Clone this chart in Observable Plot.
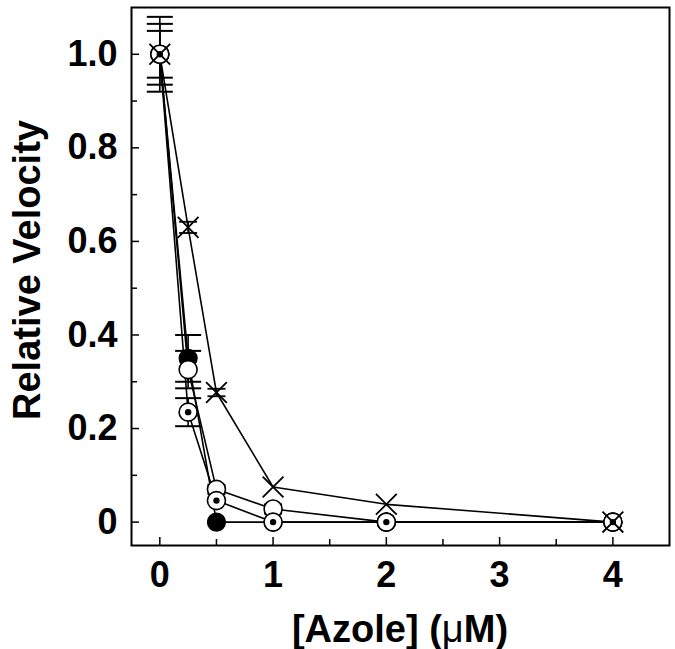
<!DOCTYPE html>
<html>
<head>
<meta charset="utf-8">
<script src="https://cdn.jsdelivr.net/npm/d3@7"></script>
<script src="https://cdn.jsdelivr.net/npm/@observablehq/plot@0.6"></script>
<style>
  html, body { margin: 0; padding: 0; background: #fff; }
  svg { font-family: "Liberation Sans", Arial, sans-serif; }
</style>
</head>
<body>
<div id="chart"></div>
<script>
// Azole concentration (µM)
const azole = [0, 0.25, 0.5, 1, 2, 4];
// Relative velocity series
const filledVals = [1.0, 0.35, 0, 0, 0, 0];
const openVals   = [1.0, 0.326, 0.07, 0.028, 0, 0];
const dottedVals = [1.0, 0.235, 0.046, 0, 0, 0];
const crossVals  = [1.0, 0.63, 0.277, 0.075, 0.038, 0];
// Error (±)
const filledErr = [0.065, 0.05, 0, 0, 0, 0];
const openErr   = [0.08, 0.04, 0.01, 0.01, 0, 0];
const dottedErr = [0.05, 0.03, 0, 0, 0, 0];
const crossErr  = [0, 0.012, 0.008, 0, 0, 0];
// Ticks
const yMajor = [0, 0.2, 0.4, 0.6, 0.8, 1.0];
const yMinor = [0.1, 0.3, 0.5, 0.7, 0.9];
const yLabels = ["0", "0.2", "0.4", "0.6", "0.8", "1.0"];
const xMajor = [0, 1, 2, 3, 4];
const xMinor = [0.5, 1.5, 2.5, 3.5];
const xLabels = ["0", "1", "2", "3", "4"];

const seriesDefs = [
  {name: "filled", vals: filledVals, err: filledErr},
  {name: "open", vals: openVals, err: openErr},
  {name: "dotted", vals: dottedVals, err: dottedErr},
  {name: "cross", vals: crossVals, err: crossErr}
];
const rows = seriesDefs.flatMap(s => azole.map((x, i) => ({series: s.name, x, y: s.vals[i], e: s.err[i]})));
const errRows = rows.filter(d => d.e > 0);
const caps = errRows.flatMap(d => [{...d, yc: d.y + d.e}, {...d, yc: d.y - d.e}]);
const bigCaps = caps.filter(d => d.e >= 0.02);
const smallCaps = caps.filter(d => d.e < 0.02);

const capSymbol = {
  draw(context, size) {
    const r = Math.sqrt(size / Math.PI);
    context.moveTo(-r, 0);
    context.lineTo(r, 0);
  }
};

const W = 675, H = 649;
const plot = Plot.plot({
  width: W,
  height: H,
  marginLeft: 131,
  marginRight: 6,
  marginTop: 7,
  marginBottom: 104,
  style: {fontFamily: "'Liberation Sans', Arial, sans-serif", background: "#fff"},
  x: {domain: [-0.25, 4.5], axis: null},
  y: {domain: [-0.05, 1.1], axis: null},
  marks: [
    Plot.line(rows, {x: "x", y: "y", z: "series", stroke: "black", strokeWidth: 1.6}),
    Plot.ruleX(errRows, {x: "x", y1: d => d.y - d.e, y2: d => d.y + d.e, stroke: "black", strokeWidth: 1.6}),
    Plot.dot(bigCaps, {x: "x", y: "yc", symbol: capSymbol, r: 13, stroke: "black", strokeWidth: 2}),
    Plot.dot(smallCaps, {x: "x", y: "yc", symbol: capSymbol, r: 9, stroke: "black", strokeWidth: 1.8}),
    Plot.dot(rows.filter(d => d.series === "filled"), {x: "x", y: "y", r: 9, fill: "black", stroke: "black", strokeWidth: 1.2}),
    Plot.dot(rows.filter(d => d.series === "open"), {x: "x", y: "y", r: 9, fill: "white", stroke: "black", strokeWidth: 1.6}),
    Plot.dot(rows.filter(d => d.series === "dotted"), {x: "x", y: "y", r: 9, fill: "white", stroke: "black", strokeWidth: 1.6}),
    Plot.dot(rows.filter(d => d.series === "dotted"), {x: "x", y: "y", r: 3.2, fill: "black"}),
    Plot.dot(rows.filter(d => d.series === "cross"), {x: "x", y: "y", symbol: "times", r: 9.5, stroke: "black", strokeWidth: 1.8}),
    Plot.tickY(yMajor, {y: d => d, insetRight: W - 131 - 6 - 8, stroke: "black", strokeWidth: 1.5}),
    Plot.tickY(yMinor, {y: d => d, insetRight: W - 131 - 6 - 6, stroke: "black", strokeWidth: 1.5}),
    Plot.tickX(xMajor, {x: d => d, insetTop: H - 7 - 104 - 8, stroke: "black", strokeWidth: 1.5}),
    Plot.tickX(xMinor, {x: d => d, insetTop: H - 7 - 104 - 6, stroke: "black", strokeWidth: 1.5}),
    Plot.axisY({ticks: yMajor, tickFormat: (d) => yLabels[yMajor.indexOf(d)], tickSize: 0, tickPadding: 14, fontSize: 36, fontWeight: "bold", label: null, fill: "black"}),
    Plot.axisX({ticks: xMajor, tickFormat: (d) => xLabels[xMajor.indexOf(d)], tickSize: 0, tickPadding: 16, fontSize: 36, fontWeight: "bold", label: null, fill: "black"}),
    Plot.frame({stroke: "black", strokeWidth: 2})
  ]
});

const svg = d3.select(plot);
svg.append("text")
  .attr("transform", "translate(30,270) rotate(-90)")
  .attr("text-anchor", "middle")
  .attr("dominant-baseline", "middle")
  .attr("font-size", 38)
  .attr("font-weight", "bold")
  .attr("fill", "black")
  .text("Relative Velocity");
const xt = svg.append("text")
  .attr("x", 400)
  .attr("y", 642)
  .attr("text-anchor", "middle")
  .attr("font-size", 38)
  .attr("font-weight", "bold")
  .attr("fill", "black");
xt.append("tspan").text("[Azole] (");
xt.append("tspan").attr("font-weight", "normal").text("\u03bc");
xt.append("tspan").text("M)");

document.getElementById("chart").appendChild(plot);
</script>
</body>
</html>
